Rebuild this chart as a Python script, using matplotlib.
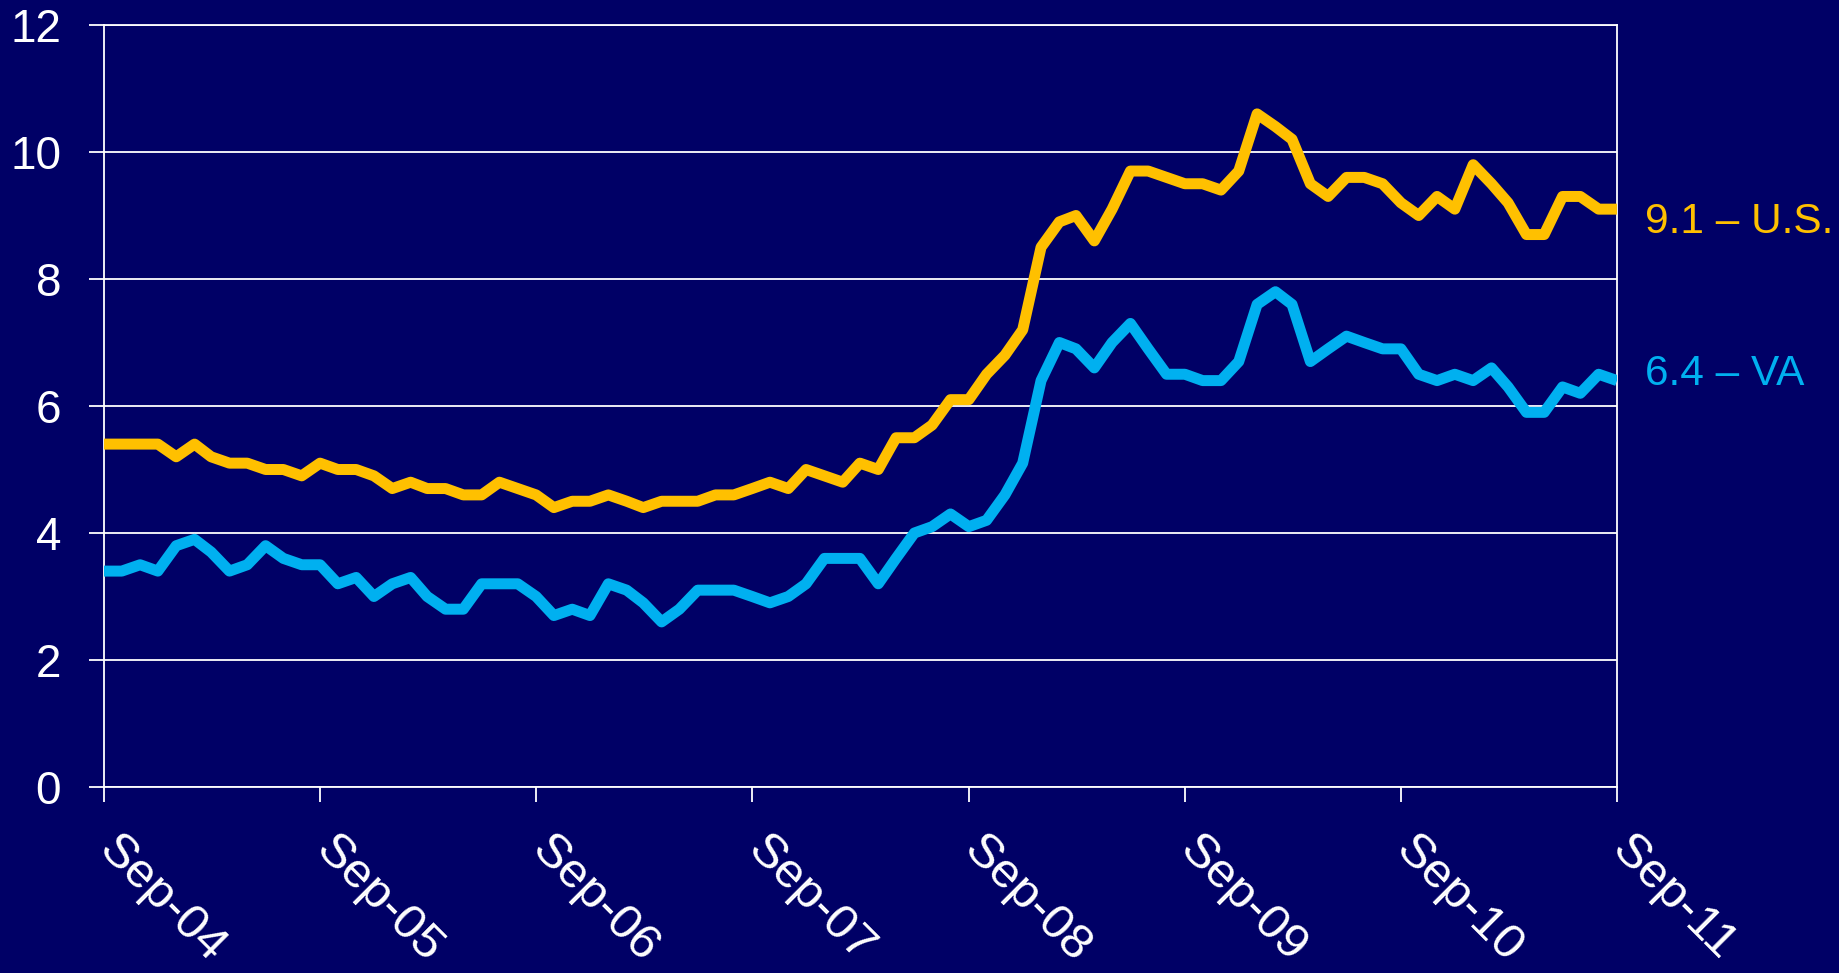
import matplotlib
matplotlib.use('Agg')
import matplotlib.pyplot as plt
import matplotlib.transforms as mtransforms
import pandas as pd

# ---- data ----
months = pd.date_range('2004-09-01', periods=85, freq='MS')

us_rate = [5.4, 5.4, 5.4, 5.4, 5.2, 5.4, 5.2, 5.1, 5.1, 5.0, 5.0, 4.9,
           5.1, 5.0, 5.0, 4.9, 4.7, 4.8, 4.7, 4.7, 4.6, 4.6, 4.8, 4.7,
           4.6, 4.4, 4.5, 4.5, 4.6, 4.5, 4.4, 4.5, 4.5, 4.5, 4.6, 4.6,
           4.7, 4.8, 4.7, 5.0, 4.9, 4.8, 5.1, 5.0, 5.5, 5.5, 5.7, 6.1,
           6.1, 6.5, 6.8, 7.2, 8.5, 8.9, 9.0, 8.6, 9.1, 9.7, 9.7, 9.6,
           9.5, 9.5, 9.4, 9.7, 10.6, 10.4, 10.2, 9.5, 9.3, 9.6, 9.6, 9.5,
           9.2, 9.0, 9.3, 9.1, 9.8, 9.5, 9.2, 8.7, 8.7, 9.3, 9.3, 9.1, 9.1]

va_rate = [3.4, 3.4, 3.5, 3.4, 3.8, 3.9, 3.7, 3.4, 3.5, 3.8, 3.6, 3.5,
           3.5, 3.2, 3.3, 3.0, 3.2, 3.3, 3.0, 2.8, 2.8, 3.2, 3.2, 3.2,
           3.0, 2.7, 2.8, 2.7, 3.2, 3.1, 2.9, 2.6, 2.8, 3.1, 3.1, 3.1,
           3.0, 2.9, 3.0, 3.2, 3.6, 3.6, 3.6, 3.2, 3.6, 4.0, 4.1, 4.3,
           4.1, 4.2, 4.6, 5.1, 6.4, 7.0, 6.9, 6.6, 7.0, 7.3, 6.9, 6.5,
           6.5, 6.4, 6.4, 6.7, 7.6, 7.8, 7.6, 6.7, 6.9, 7.1, 7.0, 6.9,
           6.9, 6.5, 6.4, 6.5, 6.4, 6.6, 6.3, 5.9, 5.9, 6.3, 6.2, 6.5, 6.4]

x_tick_labels = ['Sep-04', 'Sep-05', 'Sep-06', 'Sep-07', 'Sep-08', 'Sep-09', 'Sep-10', 'Sep-11']
y_ticks = [0, 2, 4, 6, 8, 10, 12]
series_names = ['U.S.', 'VA']

# ---- style ----
plt.rcParams['font.family'] = ['Liberation Sans', 'DejaVu Sans']
BG = '#000066'
YELLOW = '#FFC000'
CYAN = '#00B0F0'
WHITE = '#FFFFFF'

fig = plt.figure(figsize=(18.39, 9.73), dpi=100, facecolor=BG)
ax = fig.add_axes([104 / 1839, 1 - 787 / 973, (1617 - 104) / 1839, (787 - 25) / 973])
ax.set_facecolor(BG)

ax.plot(months, us_rate, color=YELLOW, lw=7.9, solid_joinstyle='round', solid_capstyle='butt', zorder=3)
ax.plot(months, va_rate, color=CYAN, lw=7.9, solid_joinstyle='round', solid_capstyle='butt', zorder=3)

ax.set_xlim(months[0], months[-1])
ax.set_ylim(0, 12)
ax.set_yticks(y_ticks)
ax.set_yticklabels([str(v) for v in y_ticks])
ax.yaxis.grid(True, color=WHITE, lw=1.3)
ax.set_axisbelow(True)

ax.set_xticks(months[::12])
ax.set_xticklabels(x_tick_labels, rotation=-45, ha='left', va='top', rotation_mode='anchor')

ax.tick_params(axis='both', colors=WHITE, length=10.8, width=1.3, direction='out')
ax.tick_params(axis='y', pad=20, labelsize=33)
ax.tick_params(axis='x', pad=18, labelsize=35.5)

offset = mtransforms.ScaledTranslation(18 / 100, 0, fig.dpi_scale_trans)
for lab in ax.get_xticklabels():
    lab.set_transform(lab.get_transform() + offset)

for side in ['left', 'right', 'bottom', 'top']:
    ax.spines[side].set_color(WHITE)
    ax.spines[side].set_linewidth(1.3)

blend = ax.get_yaxis_transform()
ax.text(1.0185, 8.72, f'{us_rate[-1]:.1f} \u2013 {series_names[0]}', transform=blend,
        color=YELLOW, fontsize=30.5, ha='left', va='baseline', clip_on=False)
ax.text(1.0185, 6.33, f'{va_rate[-1]:.1f} \u2013 {series_names[1]}', transform=blend,
        color=CYAN, fontsize=30.5, ha='left', va='baseline', clip_on=False)

fig.savefig('out.png', dpi=100, facecolor=BG)
